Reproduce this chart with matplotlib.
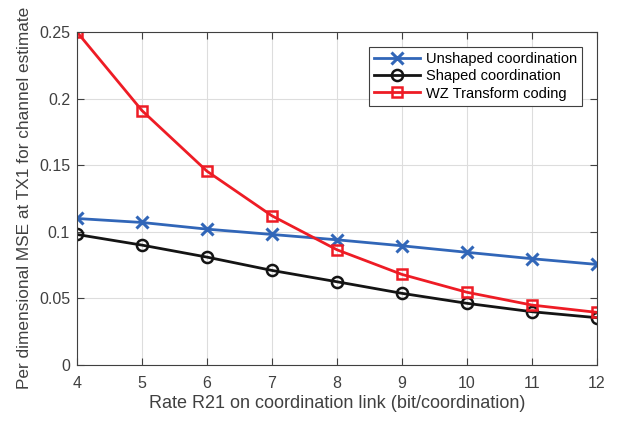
import matplotlib
matplotlib.use('Agg')
from matplotlib import pyplot as plt

plt.rcParams['font.family'] = ['Liberation Sans', 'DejaVu Sans']

rate = [4, 5, 6, 7, 8, 9, 10, 11, 12]
unshaped = [0.110, 0.107, 0.102, 0.098, 0.094, 0.0895, 0.0846, 0.0798, 0.0755]
shaped = [0.098, 0.090, 0.081, 0.071, 0.0625, 0.0538, 0.0463, 0.0400, 0.0355]
wz = [0.250, 0.191, 0.1455, 0.112, 0.0865, 0.068, 0.0546, 0.0450, 0.0395]

axcol = '#404040'

fig = plt.figure(figsize=(6.28, 4.21), dpi=100)
ax = fig.add_axes([0.1226, 0.133, 0.828, 0.791])

ax.plot(rate, unshaped, color='#3166b8', lw=2.0, marker='x', ms=9, mew=2.2,
        label='Unshaped coordination')
ax.plot(rate, shaped, color='#141414', lw=2.0, marker='o', ms=8, mew=1.8,
        mfc='none', label='Shaped coordination')
ax.plot(rate, wz, color='#ee1c25', lw=2.0, marker='s', ms=7.5, mew=1.8,
        mfc='none', label='WZ Transform coding')

ax.set_xlim(4, 12)
ax.set_ylim(0, 0.25)
ax.set_xticks(rate)
ax.set_yticks([0, 0.05, 0.1, 0.15, 0.2, 0.25])
ax.set_yticklabels(['0', '0.05', '0.1', '0.15', '0.2', '0.25'])
ax.grid(True, color='#dddddd', lw=0.8)
ax.set_axisbelow(True)
ax.tick_params(direction='in', top=True, right=True, labelsize=11.5,
               colors=axcol, length=5, width=0.8)
ax.tick_params(axis='x', pad=8)
ax.tick_params(axis='y', pad=5)
for s in ax.spines.values():
    s.set_color(axcol)
    s.set_linewidth(0.8)

ax.set_xlabel('Rate R21 on coordination link (bit/coordination)',
              fontsize=13, color=axcol, labelpad=3)
# label is long; keep it just inside the figure
ax.set_ylabel('Per dimensional MSE at TX1 for channel estimate',
              fontsize=12.4, color=axcol)
ax.yaxis.set_label_coords(-0.087, 0.502)

leg = ax.legend(loc='upper right', bbox_to_anchor=(0.972, 0.955), fontsize=10.5,
                fancybox=False, framealpha=1, edgecolor='#404040',
                handlelength=3.2, borderpad=0.35, labelspacing=0.22,
                handletextpad=0.4, borderaxespad=0)
leg.get_frame().set_linewidth(0.8)

fig.savefig('out.png', dpi=100)
